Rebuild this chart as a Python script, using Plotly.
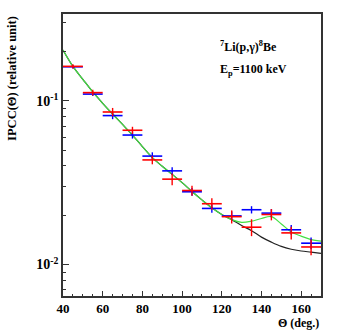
import plotly.graph_objects as go

# measured angles (deg) and IPCC values
theta = [45, 55, 65, 75, 85, 95, 105, 115, 125, 135, 145, 155, 165]
red_vals = [0.162, 0.112, 0.0853, 0.066, 0.0435, 0.0332, 0.0283, 0.0235, 0.0196, 0.0169, 0.0202, 0.0156, 0.0128]
red_err = [0.005, 0.0045, 0.005, 0.0033, 0.0026, 0.0027, 0.002, 0.0019, 0.0018, 0.002, 0.0016, 0.0014, 0.0014]
blue_vals = [0.161, 0.1097, 0.0811, 0.0617, 0.0459, 0.0373, 0.0278, 0.022, 0.0198, 0.0216, 0.0206, 0.0163, 0.0135]
blue_err = [0.004, 0.003, 0.004, 0.003, 0.0025, 0.002, 0.0015, 0.0013, 0.0013, 0.0011, 0.0012, 0.0011, 0.0011]

# fitted curves
curve_theta = [40, 45, 50, 55, 60, 65, 70, 75, 80, 85, 90, 95, 100, 105, 110, 115, 120, 125,
               130, 135, 140, 145, 150, 155, 160, 165, 170]
green_vals = [0.204, 0.162, 0.135, 0.113, 0.0964, 0.0829, 0.0716, 0.0617, 0.0525, 0.0449, 0.0398,
              0.0355, 0.0316, 0.0279, 0.0248, 0.0222, 0.0202, 0.0188,
              0.0181, 0.0184, 0.0191, 0.0196, 0.0177, 0.0158, 0.0149, 0.0142, 0.0139]
black_vals = [0.204, 0.162, 0.135, 0.113, 0.0964, 0.0829, 0.0716, 0.0617, 0.0525, 0.0449, 0.0398,
              0.0355, 0.0316, 0.0279, 0.0248, 0.0222, 0.0202, 0.0188,
              0.0173, 0.0161, 0.0147, 0.0137, 0.0129, 0.0124, 0.0121, 0.0119, 0.0117]

FONT = 'Liberation Serif'

fig = go.Figure()

fig.add_scatter(x=curve_theta, y=black_vals, mode='lines', line=dict(color='#222222', width=1.2, shape='spline'),
                showlegend=False)
fig.add_scatter(x=curve_theta, y=green_vals, mode='lines', line=dict(color='#44e044', width=1.2, shape='spline'),
                showlegend=False)

for vals, err, col in [(blue_vals, blue_err, '#0000ff'), (red_vals, red_err, '#ff0000')]:
    fig.add_scatter(
        x=theta, y=vals, mode='markers', marker=dict(size=1, color=col, opacity=0),
        error_x=dict(type='constant', value=5, width=0, thickness=1.6, color=col),
        error_y=dict(type='data', array=err, width=0, thickness=1.4, color=col),
        showlegend=False,
    )

fig.add_annotation(x=0.6, y=0.885, xref='paper', yref='paper', xanchor='left', yanchor='middle',
                   text='<sup>7</sup>Li(p,γ)<sup>8</sup>Be', showarrow=False,
                   font=dict(family=FONT, size=12, color='black', weight='bold'))
fig.add_annotation(x=0.6, y=0.8, xref='paper', yref='paper', xanchor='left', yanchor='middle',
                   text='E<sub>p</sub>=1100 keV', showarrow=False,
                   font=dict(family=FONT, size=12, color='black', weight='bold'))

# axis titles placed like ROOT (right / top aligned)
fig.add_annotation(x=1.0, y=-0.065, xref='paper', yref='paper', xanchor='right', yanchor='top',
                   text='Θ (deg.)', showarrow=False,
                   font=dict(family=FONT, size=12, color='black', weight='bold'))
fig.add_annotation(x=-0.2, y=1.0, xref='paper', yref='paper', xanchor='center', yanchor='top',
                   text='IPCC(Θ) (relative unit)', showarrow=False, textangle=-90,
                   font=dict(family=FONT, size=12.5, color='black', weight='bold'))

fig.update_xaxes(
    range=[40, 170], tickvals=[40, 60, 80, 100, 120, 140, 160],
    ticks='inside', ticklen=5, tickwidth=1, tickcolor='#333',
    minor=dict(dtick=5, tick0=40, ticks='inside', ticklen=2.5, tickcolor='#333'),
    showline=True, linecolor='#333', linewidth=1.5, mirror=True,
    showgrid=False, zeroline=False,
    tickfont=dict(family=FONT, size=13, color='black', weight='bold'),
)
fig.update_yaxes(
    type='log', range=[-2.192, -0.471],
    tickvals=[0.01, 0.1], ticktext=['10<sup>-2</sup>', '10<sup>-1</sup>'],
    ticks='inside', ticklen=6, tickwidth=1, tickcolor='#333',
    minor=dict(tickvals=[0.007, 0.008, 0.009, 0.02, 0.03, 0.04, 0.05, 0.06, 0.07, 0.08, 0.09, 0.2, 0.3],
               ticks='inside', ticklen=3, tickcolor='#333'),
    showline=True, linecolor='#333', linewidth=1.5, mirror=True,
    showgrid=False, zeroline=False,
    tickfont=dict(family=FONT, size=14, color='black', weight='bold'),
)

fig.update_layout(
    width=339, height=333,
    margin=dict(l=63, r=18, t=12, b=37),
    paper_bgcolor='white', plot_bgcolor='white',
    font=dict(family=FONT, color='black'),
)

fig.write_html('out.html', config={'displayModeBar': False},
               post_script="document.body.style.margin='0';")
